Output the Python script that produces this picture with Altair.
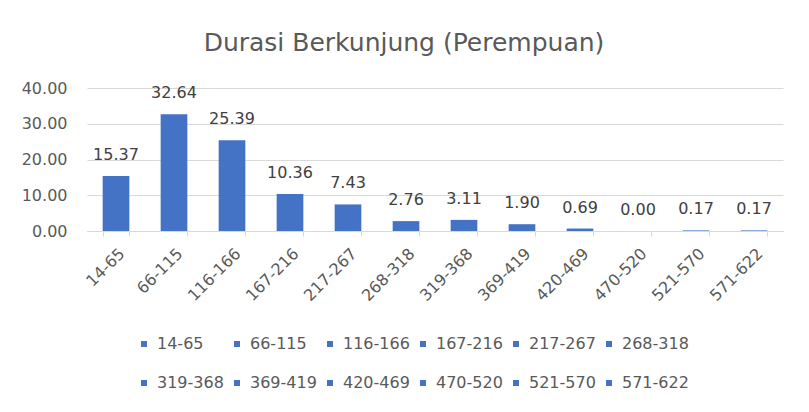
import altair as alt
import pandas as pd

categories = ["14-65", "66-115", "116-166", "167-216", "217-267", "268-318",
              "319-368", "369-419", "420-469", "470-520", "521-570", "571-622"]
values = [15.37, 32.64, 25.39, 10.36, 7.43, 2.76, 3.11, 1.90, 0.69, 0.00, 0.17, 0.17]
y_ticks = [0, 10, 20, 30, 40]
title_text = "Durasi Berkunjung (Perempuan)"

df = pd.DataFrame({"cat": categories, "val": values})

FONT = "DejaVu Sans"
BLUE = "#4472C4"

base = alt.Chart(df).encode(
    x=alt.X("cat:N", sort=categories, title=None,
            scale=alt.Scale(paddingInner=0.54, paddingOuter=0.27),
            axis=alt.Axis(labelAngle=-45, tickBand="extent", domainColor="#d9d9d9",
                          tickColor="#d9d9d9", tickSize=5, labelPadding=9,
                          labelFont=FONT, labelFontSize=16, labelColor="#595959",
                          grid=False)),
    y=alt.Y("val:Q", title=None,
            scale=alt.Scale(domain=[0, 40], nice=False),
            axis=alt.Axis(values=y_ticks, format=".2f", domain=False,
                          ticks=False, tickSize=0, labelPadding=20,
                          gridColor="#d9d9d9", labelOverlap=False,
                          labelFont=FONT, labelFontSize=16, labelColor="#595959")),
)

bars = base.mark_bar(color=BLUE).encode(
    color=alt.Color("cat:N", sort=categories,
                    scale=alt.Scale(domain=categories, range=[BLUE] * len(categories)),
                    legend=alt.Legend(orient="none", legendX=49, legendY=248,
                                      direction="horizontal", columns=6,
                                      symbolType="square", symbolSize=36,
                                      symbolStrokeWidth=0,
                                      labelFont=FONT, labelFontSize=16,
                                      labelColor="#595959", labelOffset=5,
                                      columnPadding=5, rowPadding=23,
                                      padding=0, title=None)),
)

labels = base.mark_text(font=FONT, fontSize=16, color="#404040",
                        baseline="alphabetic", dy=-16).encode(
    text=alt.Text("val:Q", format=".2f"),
)

chart = (bars + labels).properties(
    width=696, height=143,
    padding={"left": 79, "top": 80, "right": 15, "bottom": 170},
    autosize=alt.AutoSizeParams(type="none"),
    title=alt.TitleParams(title_text, font=FONT, fontSize=25, fontWeight="normal",
                          color="#595959", frame="group", anchor="middle",
                          baseline="alphabetic", offset=4, dx=-31),
).configure_view(stroke=None)

chart.save("out.html", embed_options={"renderer": "svg", "actions": False})
